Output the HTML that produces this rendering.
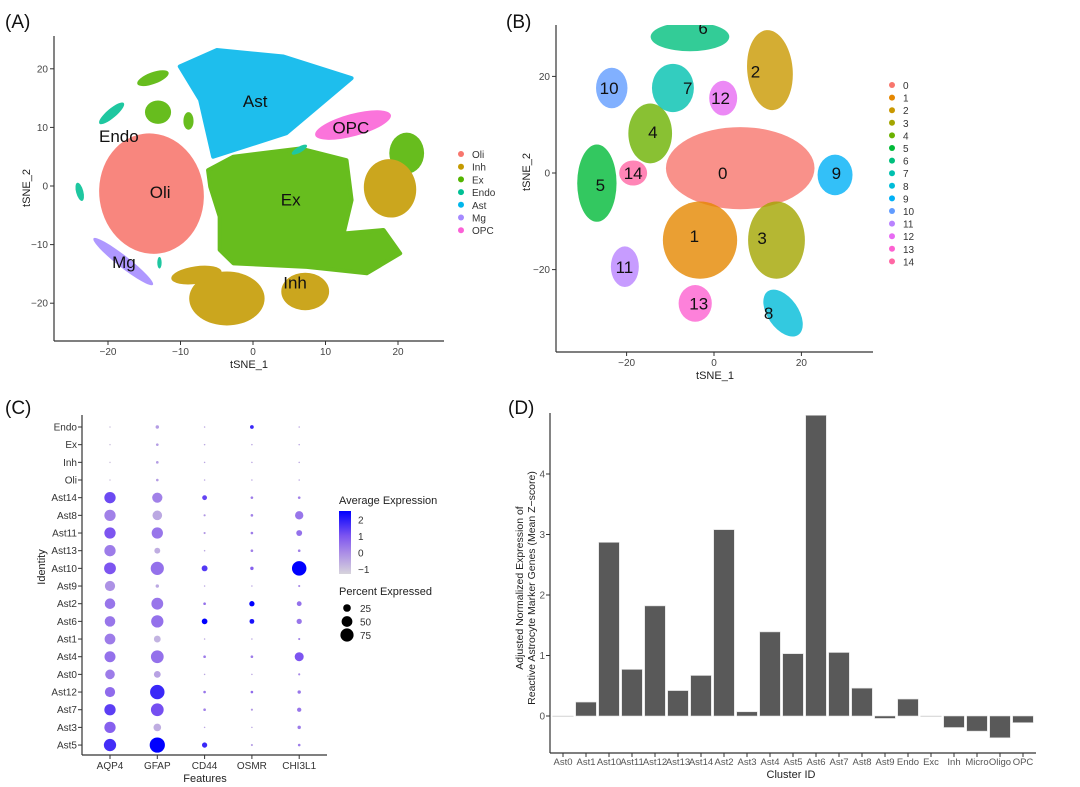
<!DOCTYPE html>
<html><head><meta charset="utf-8">
<style>
body{margin:0;background:#fff;}
svg{display:block;font-family:"Liberation Sans",sans-serif;}
</style></head>
<body>
<svg id="fig" width="1080" height="787" viewBox="0 0 1080 787" xmlns="http://www.w3.org/2000/svg">
<text x="5" y="28" font-size="19" fill="#111">(A)</text>
<text x="506" y="28" font-size="19" fill="#111">(B)</text>
<text x="5" y="414" font-size="19" fill="#111">(C)</text>
<text x="508" y="414" font-size="19" fill="#111">(D)</text>
<g id="pa"></g>
<g id="pb"></g>
<g id="pc"></g>
<g id="pd"></g>
</svg>
<script>
// ---------- Panel A data ----------
const aTypes = ["Oli","Inh","Ex","Endo","Ast","Mg","OPC"];
const aColors = ["#F8766D","#C49A00","#53B400","#00C094","#00B6EB","#A58AFF","#FB61D7"];
const aBlobType = ["Oli","Ex","Ex","Ex","Ex","Inh","Inh","Inh","Inh","Endo","Endo","Endo","Endo","Mg","OPC"];
const aBlobX = [-14,-13.8,-13.1,-8.9,21.2,18.9,-3.6,-7.8,7.2,-19.5,-23.9,6.4,-12.9,-17.9,13.8];
const aBlobY = [-1.3,18.4,12.6,11.1,5.6,-0.4,-19.2,-15.2,-18,12.4,-1,6.2,-13.1,-12.9,10.4];
const aBlobRX = [7.2,2.3,1.8,0.7,2.4,3.6,5.2,3.5,3.3,2.2,0.5,1.2,0.3,5.2,5.4];
const aBlobRY = [10.3,1.0,2.0,1.5,3.5,5.0,4.6,1.5,3.2,0.8,1.6,0.5,1.0,1.0,1.9];
const aBlobRot = [-8,-20,0,0,0,-10,0,-8,0,-40,-15,-30,0,38,-15];
const aAstX=[-10.1,-5.0,4.2,13.6,4.6,-5.5,-7.3];
const aAstY=[20.4,23.2,22.1,18.4,9.0,5.0,14.7];
const aExX=[-6.2,-2.7,6.5,12.9,13.6,12.5,18.0,20.3,15.7,7.4,-2.7,-4.6,-4.6,-5.9];
const aExY=[2.7,5.0,6.4,4.4,-2.4,-8.1,-7.5,-11.5,-14.9,-13.8,-13.2,-10.9,-5.2,-0.1];
const aLabels=["Ast","OPC","Endo","Oli","Ex","Mg","Inh"];
const aLabX=[0.3,13.5,-18.5,-12.8,5.2,-17.8,5.8];
const aLabY=[14.5,10,8.5,-1,-2.3,-13,-16.5];
const aTicks=[-20,-10,0,10,20];

// ---------- Panel B data ----------
const bClusters=["0","1","2","3","4","5","6","7","8","9","10","11","12","13","14"];
const bColors=["#F8766D","#E58700","#C99800","#A3A500","#6BB100","#00BA38","#00BF7D","#00C0AF","#00BCD8","#00B0F6","#619CFF","#B983FF","#E76BF3","#FD61D1","#FF67A4"];
const bCX=[6,-3.2,12.8,14.3,-14.6,-26.8,-5.5,-9.4,15.8,27.7,-23.4,-20.4,2.1,-4.3,-18.5];
const bCY=[1,-13.9,21.3,-13.9,8.2,-2.1,28.2,17.6,-29,-0.4,17.6,-19.4,15.5,-27,0];
const bRX=[17,8.5,5.2,6.5,5,4.5,9,4.8,3.5,4,3.6,3.2,3.2,3.8,3.2];
const bRY=[8.5,8,8.3,8,6.2,8,3,5,5.5,4.2,4.2,4.2,3.6,3.8,2.6];
const bRot=[0,0,-5,0,0,0,0,0,-35,0,0,0,0,0,0];
const bLabX=[2,-4.5,9.5,11,-14,-26,-2.5,-6,12.5,28,-24,-20.5,1.5,-3.5,-18.5];
const bLabY=[0,-13,21,-13.5,8.5,-2.5,30,17.6,-29,0,17.6,-19.5,15.5,-27,0];
const bTicksX=[-20,0,20];
const bTicksY=[-20,0,20];

// ---------- Panel C data ----------
const cRows=["Endo","Ex","Inh","Oli","Ast14","Ast8","Ast11","Ast13","Ast10","Ast9","Ast2","Ast6","Ast1","Ast4","Ast0","Ast12","Ast7","Ast3","Ast5"];
const cGenes=["AQP4","GFAP","CD44","OSMR","CHI3L1"];
const pctAQP4=[1,1,1,1,55,55,55,55,60,45,48,48,50,52,40,45,55,55,65];
const expAQP4=[-1,-1,-1,-1,1.2,0.2,1.0,0.3,1.0,-0.1,0.4,0.4,0.3,0.5,0.3,0.6,1.4,0.8,1.7];
const pctGFAP=[5,3,3,3,45,40,55,15,75,5,60,65,20,70,20,90,70,25,100];
const expGFAP=[-0.3,-0.3,-0.3,-0.3,0.2,-0.5,0.4,-0.6,0.5,-0.5,0.4,0.5,-0.7,0.5,-0.4,1.8,1.1,-0.6,2.5];
const pctCD44=[1,1,1,1,10,2,2,1,15,1,3,14,1,3,1,3,3,1,12];
const expCD44=[-0.5,-0.5,-0.5,-0.5,1.3,-0.2,-0.2,-0.5,1.5,-0.5,0.5,2.5,-0.5,0.3,-0.5,0.4,0.2,-0.5,1.8];
const pctOSMR=[6,1,1,1,3,3,3,3,5,1,12,10,1,3,1,3,2,1,2];
const expOSMR=[1.8,-0.5,-0.5,-0.5,0.3,0.2,0.3,0.2,0.8,-0.5,2.5,2.2,-0.5,0.3,-0.5,0.6,-0.2,-0.5,-0.3];
const pctCHI=[1,1,1,1,3,30,15,3,90,2,10,12,2,35,2,5,8,5,3];
const expCHI=[-0.5,-0.5,-0.5,-0.5,0.2,0.4,0.5,0.2,2.5,0.1,0.5,0.4,0.2,1.0,0.1,0.4,0.4,0.3,0.3];
const cColorTicks=[2,1,0,-1];
const cSizeTicks=[25,50,75];

// ---------- Panel D data ----------
const dCats=["Ast0","Ast1","Ast10","Ast11","Ast12","Ast13","Ast14","Ast2","Ast3","Ast4","Ast5","Ast6","Ast7","Ast8","Ast9","Endo","Exc","Inh","Micro","Oligo","OPC"];
const dVals=[0,0.23,2.87,0.77,1.82,0.42,0.67,3.08,0.07,1.39,1.03,4.97,1.05,0.46,-0.04,0.28,-0.01,-0.19,-0.25,-0.36,-0.11];
const dTicks=[0,1,2,3,4];

const NS="http://www.w3.org/2000/svg";
function mk(parent,tag,attrs,text){const e=document.createElementNS(NS,tag);for(const k in attrs)e.setAttribute(k,attrs[k]);if(text!==undefined)e.textContent=text;parent.appendChild(e);return e;}

// ===== Panel A =====
(function(){
const g=document.getElementById('pa');
const X=v=>253+v*7.25, Y=v=>186-v*5.86;
const col=t=>aColors[aTypes.indexOf(t)];
const pts=(xs,ys)=>xs.map((x,i)=>X(x)+","+Y(ys[i])).join(" ");
const shapes=mk(g,'g',{opacity:0.88});
let p=mk(shapes,'polygon',{points:pts(aAstX,aAstY),fill:col("Ast"),stroke:col("Ast"),'stroke-width':4,'stroke-linejoin':'round'});


p=mk(shapes,'polygon',{points:pts(aExX,aExY),fill:col("Ex"),stroke:col("Ex"),'stroke-width':4,'stroke-linejoin':'round'});


aBlobType.forEach((t,i)=>{
 const e=mk(shapes,'ellipse',{cx:X(aBlobX[i]),cy:Y(aBlobY[i]),rx:aBlobRX[i]*7.25,ry:aBlobRY[i]*5.86,fill:col(t),transform:`rotate(${aBlobRot[i]} ${X(aBlobX[i])} ${Y(aBlobY[i])})`});
 
 
});
aLabels.forEach((l,i)=>{
 const t=mk(g,'text',{x:X(aLabX[i]),y:Y(aLabY[i])+6,'font-size':17,'text-anchor':'middle',fill:'#111'},l);
 
 
});
mk(g,'line',{x1:54,y1:36,x2:54,y2:341,stroke:'#333','stroke-width':1.2});
mk(g,'line',{x1:54,y1:341,x2:444,y2:341,stroke:'#333','stroke-width':1.2});
aTicks.forEach(v=>{
 mk(g,'line',{x1:X(v),y1:341,x2:X(v),y2:345,stroke:'#333'});
 const tx=mk(g,'text',{x:X(v),y:355,'font-size':10,'text-anchor':'middle',fill:'#444'},v<0?'\u2212'+(-v):v);
 
 
});
[-20,-10,0,10,20].forEach(v=>{
 mk(g,'line',{x1:50,y1:Y(v),x2:54,y2:Y(v),stroke:'#333'});
 const tx=mk(g,'text',{x:48,y:Y(v)+3.5,'font-size':10,'text-anchor':'end',fill:'#444'},v<0?'\u2212'+(-v):v);
 
 
});
let t=mk(g,'text',{x:249,y:368,'font-size':11,'text-anchor':'middle',fill:'#222'},'tSNE_1');


t=mk(g,'text',{x:0,y:0,'font-size':11,'text-anchor':'middle',fill:'#222',transform:'translate(30,188) rotate(-90)'},'tSNE_2');


aTypes.forEach((ty,i)=>{
 const le=mk(g,'g',{});
 
 
 mk(le,'circle',{cx:461,cy:154+i*12.7,r:3,fill:aColors[i]});
 mk(le,'text',{x:472,y:158+i*12.7,'font-size':10,fill:'#333'},ty);
});
})();

// ===== Panel B =====
(function(){
const g=document.getElementById('pb');
const X=v=>714+v*4.37, Y=v=>173-v*4.83;
const order=[0,2,4,6,7,10,12,5,14,9,1,3,11,13,8];
order.forEach(i=>{
 const e=mk(g,'ellipse',{cx:X(bCX[i]),cy:Y(bCY[i]),rx:bRX[i]*4.37,ry:bRY[i]*4.83,fill:bColors[i],'fill-opacity':0.8,transform:`rotate(${bRot[i]} ${X(bCX[i])} ${Y(bCY[i])})`});
 
 
});
bClusters.forEach((c,i)=>{
 const t=mk(g,'text',{x:X(bLabX[i]),y:Y(bLabY[i])+6,'font-size':17,'text-anchor':'middle',fill:'#111'},c);
 
 
});
mk(g,'rect',{x:540,y:0,width:340,height:25,fill:'#fff'});
mk(g,'line',{x1:556,y1:25,x2:556,y2:352,stroke:'#333','stroke-width':1.2});
mk(g,'line',{x1:556,y1:352,x2:873,y2:352,stroke:'#333','stroke-width':1.2});
bTicksX.forEach(v=>{
 mk(g,'line',{x1:X(v),y1:352,x2:X(v),y2:356,stroke:'#333'});
 const tx=mk(g,'text',{x:X(v),y:366,'font-size':10,'text-anchor':'middle',fill:'#444'},v<0?'\u2212'+(-v):v);
 
 
});
bTicksY.forEach(v=>{
 mk(g,'line',{x1:552,y1:Y(v),x2:556,y2:Y(v),stroke:'#333'});
 const tx=mk(g,'text',{x:550,y:Y(v)+3.5,'font-size':10,'text-anchor':'end',fill:'#444'},v<0?'\u2212'+(-v):v);
 
 
});
let t=mk(g,'text',{x:715,y:379,'font-size':11,'text-anchor':'middle',fill:'#222'},'tSNE_1');


t=mk(g,'text',{x:0,y:0,'font-size':11,'text-anchor':'middle',fill:'#222',transform:'translate(530,172) rotate(-90)'},'tSNE_2');


bClusters.forEach((c,i)=>{
 const le=mk(g,'g',{});
 
 
 mk(le,'circle',{cx:892,cy:85+i*12.6,r:3,fill:bColors[i]});
 mk(le,'text',{x:903,y:89+i*12.6,'font-size':10,fill:'#333'},c);
});
})();

// ===== Panel C =====
(function(){
const g=document.getElementById('pc');
const rowY=i=>427+i*17.67, colX=j=>110+j*47.3;
const R=p=>6.6*Math.sqrt(Math.max(p,0.5)/75);
const stops=[[-1.3,[215,212,220]],[0,[170,140,230]],[1,[125,85,240]],[2.5,[0,0,255]]];
function color(v){
 if(v<=stops[0][0])return 'rgb('+stops[0][1]+')';
 for(let k=1;k<stops.length;k++){if(v<=stops[k][0]){const a=stops[k-1],b=stops[k];const t=(v-a[0])/(b[0]-a[0]);return 'rgb('+a[1].map((c,m)=>Math.round(c+(b[1][m]-c)*t))+')';}}
 return 'rgb(0,0,255)';
}
const pcts=[pctAQP4,pctGFAP,pctCD44,pctOSMR,pctCHI], exps=[expAQP4,expGFAP,expCD44,expOSMR,expCHI];
cGenes.forEach((gn,j)=>{
 cRows.forEach((r,i)=>{
  const c=mk(g,'circle',{cx:colX(j),cy:rowY(i),r:R(pcts[j][i]),fill:color(exps[j][i])});
  
  
 });
 mk(g,'line',{x1:colX(j),y1:755,x2:colX(j),y2:759,stroke:'#333'});
 const t=mk(g,'text',{x:colX(j),y:769,'font-size':10,'text-anchor':'middle',fill:'#333'},gn);
 
 
});
cRows.forEach((r,i)=>{
 mk(g,'line',{x1:78,y1:rowY(i),x2:82,y2:rowY(i),stroke:'#333'});
 const t=mk(g,'text',{x:77,y:rowY(i)+3.5,'font-size':10,'text-anchor':'end',fill:'#333'},r);
 
 
});
mk(g,'line',{x1:82,y1:415,x2:82,y2:755,stroke:'#333','stroke-width':1.2});
mk(g,'line',{x1:82,y1:755,x2:327,y2:755,stroke:'#333','stroke-width':1.2});
let t=mk(g,'text',{x:205,y:782,'font-size':11,'text-anchor':'middle',fill:'#222'},'Features');


t=mk(g,'text',{x:0,y:0,'font-size':11,'text-anchor':'middle',fill:'#222',transform:'translate(45,567) rotate(-90)'},'Identity');


const defs=mk(g,'defs',{});
const lg=mk(defs,'linearGradient',{id:'cgrad',x1:0,y1:1,x2:0,y2:0});
stops.forEach(s=>mk(lg,'stop',{offset:((s[0]+1.3)/3.8),'stop-color':'rgb('+s[1]+')'}));
t=mk(g,'text',{x:339,y:504,'font-size':11,fill:'#222'},'Average Expression');


const cb=mk(g,'rect',{x:339,y:511,width:12,height:63,fill:'url(#cgrad)'});


const cy=v=>574-(v+1.3)/3.8*63;
cColorTicks.forEach(v=>{
 mk(g,'text',{x:358,y:cy(v)+4,'font-size':10,fill:'#333'},v<0?'\u2212'+(-v):v);
});
t=mk(g,'text',{x:339,y:595,'font-size':11,fill:'#222'},'Percent Expressed');


cSizeTicks.forEach((v,i)=>{
 const le=mk(g,'g',{});
 
 
 mk(le,'circle',{cx:347,cy:608+i*13.5,r:R(v),fill:'#000'});
 mk(le,'text',{x:360,y:612+i*13.5,'font-size':10,fill:'#333'},v);
});
})();

// ===== Panel D =====
(function(){
const g=document.getElementById('pd');
const X=i=>563+i*23, Y=v=>716-v*60.5;
mk(g,'line',{x1:550,y1:413,x2:550,y2:753,stroke:'#333','stroke-width':1.2});
mk(g,'line',{x1:550,y1:753,x2:1036,y2:753,stroke:'#333','stroke-width':1.2});
dCats.forEach((c,i)=>{
 const v=dVals[i];
 const r=mk(g,'rect',{x:X(i)-10.3,y:Math.min(Y(v),Y(0)),width:20.6,height:Math.max(Math.abs(Y(v)-Y(0)),0.6),fill:'#595959',stroke:'#ddd','stroke-width':0.6});
 
 
 mk(g,'line',{x1:X(i),y1:753,x2:X(i),y2:757,stroke:'#333'});
 const t=mk(g,'text',{x:X(i),y:765,'font-size':9.5,'text-anchor':'middle',fill:'#555'},c);
 
 
});
dTicks.forEach(v=>{
 mk(g,'line',{x1:546,y1:Y(v),x2:550,y2:Y(v),stroke:'#333'});
 const t=mk(g,'text',{x:545,y:Y(v)+3.5,'font-size':10,'text-anchor':'end',fill:'#555'},v);
 
 
});
let t=mk(g,'text',{x:791,y:778,'font-size':11,'text-anchor':'middle',fill:'#222'},'Cluster ID');


t=mk(g,'text',{x:0,y:0,'font-size':10.5,'text-anchor':'middle',fill:'#222',transform:'translate(523,588) rotate(-90)'},'Adjusted Normalized Expression of');


t=mk(g,'text',{x:0,y:0,'font-size':10.5,'text-anchor':'middle',fill:'#222',transform:'translate(535,588) rotate(-90)'},'Reactive Astrocyte Marker Genes (Mean Z\u2212score)');


})();
</script>
</body></html>
